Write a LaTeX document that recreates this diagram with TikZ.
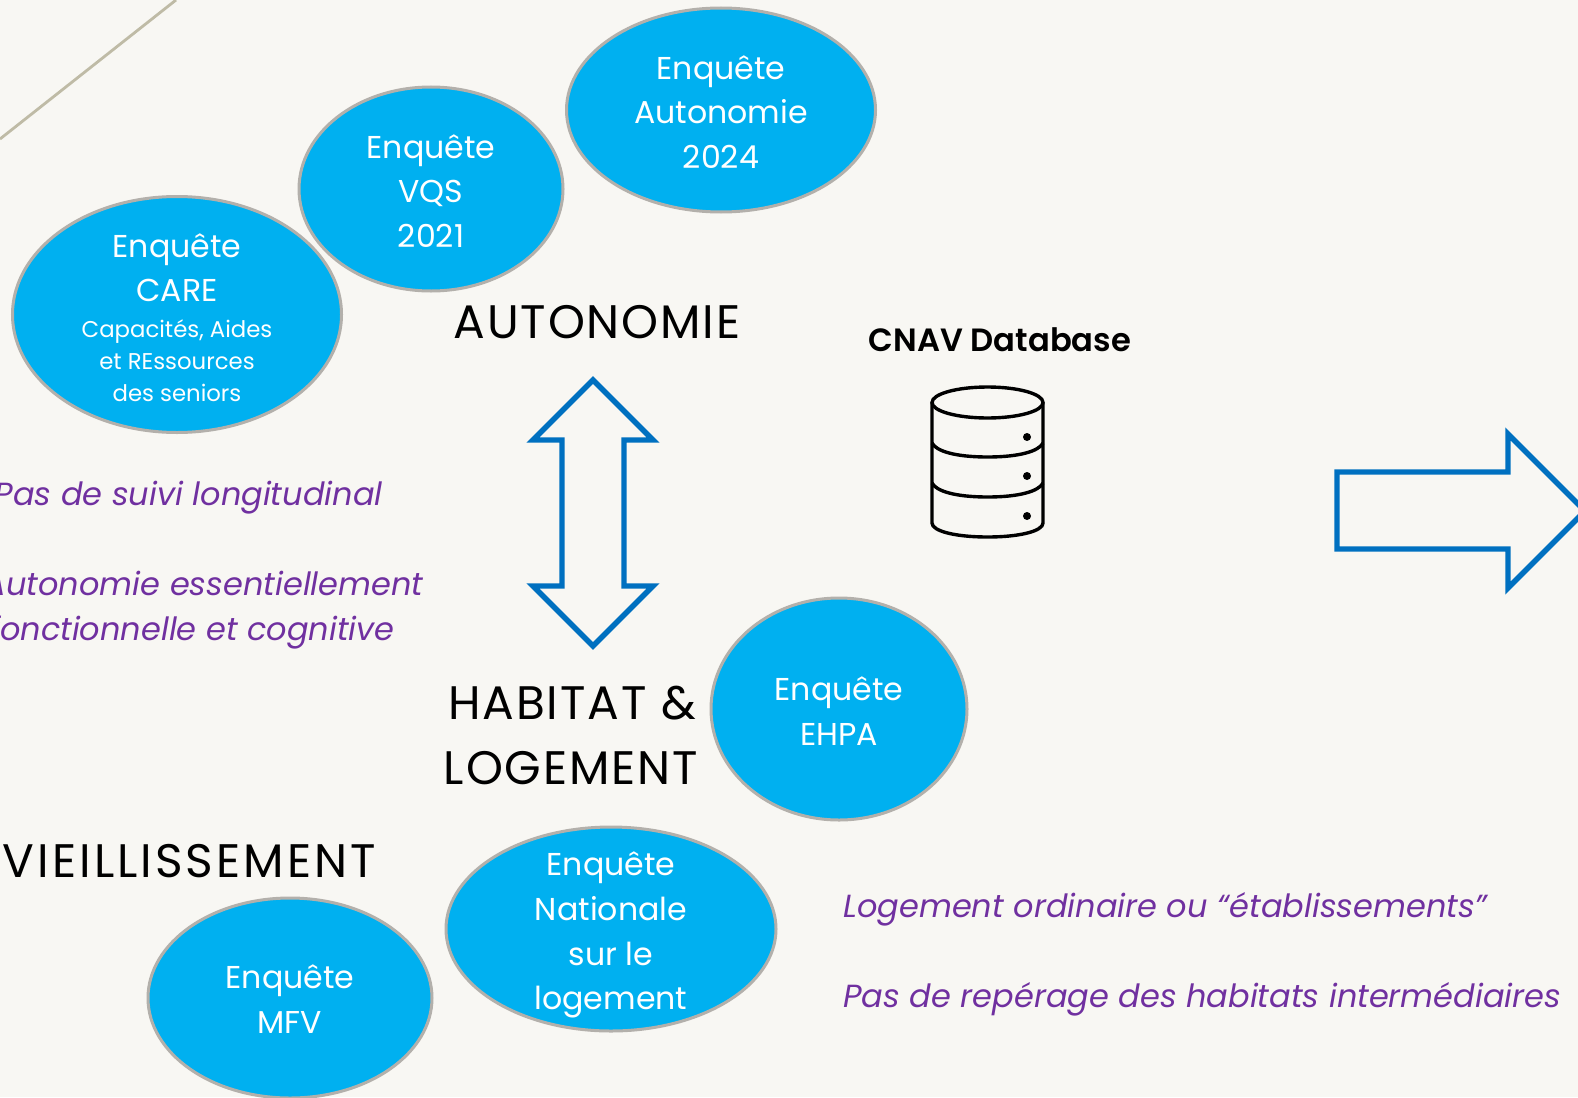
\documentclass[tikz,border=0pt]{standalone}
\usepackage{fontspec}
\setmainfont{Poppins}
\newfontfamily\headfont[LetterSpace=4]{Poppins}
\newfontfamily\headfontw[LetterSpace=6.4]{Poppins}
\newfontfamily\semibold{Poppins SemiBold}
\usetikzlibrary{shapes.geometric}
\definecolor{bgc}{HTML}{F8F7F3}
\definecolor{bub}{HTML}{00B0F0}
\definecolor{bubline}{HTML}{B3B0AB}
\definecolor{arr}{HTML}{0070C0}
\definecolor{purp}{HTML}{7030A0}
\definecolor{deco}{HTML}{BFBBA6}
\newcommand{\bigtxt}{\fontsize{15.8}{22.3}\selectfont}
\newcommand{\smalltxt}{\fontsize{11.4}{16}\selectfont}
\newcommand{\bubtext}[2][-6pt]{\smash{\raisebox{#1}{\begin{tabular}{@{}c@{}}#2\end{tabular}}}}
\tikzset{
 bubble/.style={ellipse,fill=bub,draw=bubline,line width=1.5pt,inner sep=0pt,text=white,font=\bigtxt},
 heading/.style={text=black,font=\headfont\fontsize{23.5}{31.5}\selectfont,inner sep=0pt},
 remark/.style={text=purp,font=\fontsize{16}{22}\selectfont\itshape,inner sep=0pt},
 hollow/.style={draw=arr,line width=2.7pt,miter limit=10,line join=miter},
}
\begin{document}
\begin{tikzpicture}[x=0.5pt,y=-0.5pt]
\useasboundingbox (0,0) rectangle (1578,1097);
\clip (0,0) rectangle (1578,1097);
\fill[bgc] (0,0) rectangle (1578,1097);
\draw[deco,line width=1.4pt] (0,139) -- (176,0);
\node[bubble,minimum width=164.5pt,minimum height=118pt] (care) at (177,314.5)
 {\bubtext[-6.5pt]{Enquête\\CARE\\[-4.7pt]{\smalltxt Capacités, Aides}\\[-6.3pt]{\smalltxt et REssources}\\[-6.3pt]{\smalltxt des seniors}}};
\node[bubble,minimum width=132pt,minimum height=102pt] (vqs) at (431,189) {\bubtext{Enquête\\VQS\\2021}};
\node[bubble,minimum width=154.5pt,minimum height=102pt] (auto) at (721,110) {\bubtext{Enquête\\Autonomie\\2024}};
\node[bubble,minimum width=128pt,minimum height=111pt] (ehpa) at (839,709) {\bubtext{Enquête\\EHPA}};
\node[bubble,minimum width=165pt,minimum height=102pt] (enl) at (611,929) {\bubtext{Enquête\\Nationale\\sur le\\logement}};
\node[bubble,minimum width=142pt,minimum height=100pt] (mfv) at (290,998) {\bubtext[-5.5pt]{Enquête\\MFV}};
\node[heading,anchor=base] (hauto) at (597,338) {AUTONOMIE};
\node[heading,anchor=base] (hhab) at (572,719) {HABITAT \&};
\node[heading,anchor=base] (hlog) at (571,784) {LOGEMENT};
\node[heading,font=\headfontw\fontsize{23.5}{31.5}\selectfont,anchor=base east] (hvie) at (376,877) {VIEILLISSEMENT};
\node[remark,anchor=base east] (r1) at (383,505) {Pas de suivi longitudinal};
\node[remark,anchor=base east] (r2) at (424,595) {Autonomie essentiellement};
\node[remark,anchor=base east] (r3) at (395,640) {fonctionnelle et cognitive};
\node[remark,anchor=base west] (r4) at (843,917) {Logement ordinaire ou “établissements”};
\node[remark,anchor=base west] (r5) at (843,1007) {Pas de repérage des habitats intermédiaires};
\node[anchor=base,inner sep=0pt,font=\semibold\fontsize{16.1}{18}\selectfont] (cnav) at (1000,351) {CNAV Database};
% double arrow
\draw[hollow] (593,380) -- (653,440) -- (624,440) -- (624,586) -- (653,586) -- (593,646) -- (533,586) -- (562,586) -- (562,440) -- (533,440) -- cycle;
% right arrow
\draw[hollow] (1337,472) -- (1508,472) -- (1508,434) -- (1585,511) -- (1508,588) -- (1508,549) -- (1337,549) -- cycle;
% database icon
\begin{scope}[line width=1.7pt,black]
\draw (987.5,402.5) ellipse [x radius=55.5,y radius=15.5];
\draw (932,402.5) -- (932,523) .. controls (932,531) and (955,537) .. (987.5,537) .. controls (1020,537) and (1043,531) .. (1043,523) -- (1043,402.5);
\draw (932,443) .. controls (936,451) and (955,457) .. (987.5,457) .. controls (1020,457) and (1039,451) .. (1043,443);
\draw (932,483) .. controls (936,491) and (955,497) .. (987.5,497) .. controls (1020,497) and (1039,491) .. (1043,483);
\fill (1027,437) circle [radius=4];
\fill (1027,476) circle [radius=4];
\fill (1027,516) circle [radius=4];
\end{scope}
\end{tikzpicture}
\end{document}
